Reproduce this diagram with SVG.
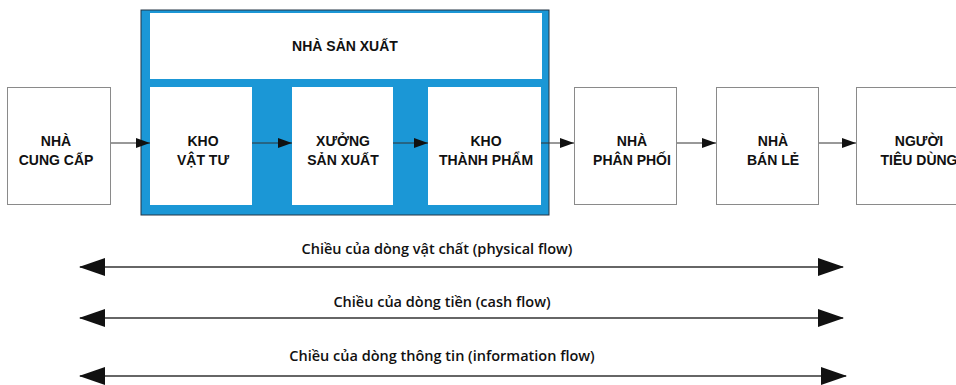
<svg xmlns="http://www.w3.org/2000/svg" width="956" height="385" viewBox="0 0 956 385">
  <style>
    .box { fill: #ffffff; stroke: #8a8a8a; stroke-width: 1; }
    .inner { fill: #ffffff; stroke: none; }
    .lbl { font-family: "Liberation Sans", Arial, sans-serif; font-weight: bold; font-size: 14px; fill: #111; text-anchor: middle; }
    .flow { font-family: "Open Sans", "Liberation Sans", sans-serif; font-weight: 600; font-size: 14.5px; fill: #111; text-anchor: middle; }
    .link { stroke: #333; stroke-width: 1; fill: none; marker-end: url(#head); }
    .span { stroke: #333; stroke-width: 1.6; fill: none; marker-start: url(#big); marker-end: url(#big); }
  </style>
  <defs>
    <marker id="head" markerUnits="userSpaceOnUse" markerWidth="14" markerHeight="10" viewBox="0 0 14 10" refX="14" refY="5" orient="auto">
      <path d="M0,0 L14,5 L0,10 Z" fill="#111"/>
    </marker>
    <marker id="big" markerUnits="userSpaceOnUse" markerWidth="26" markerHeight="18" viewBox="0 0 26 18" refX="25" refY="9" orient="auto-start-reverse">
      <path d="M0,0 L26,9 L0,18 Z" fill="#111"/>
    </marker>
  </defs>

  <rect width="956" height="385" fill="#ffffff"/>

  <!-- Manufacturer frame -->
  <g id="nha-san-xuat">
    <rect x="141" y="10" width="408" height="205" fill="#1b97d6" stroke="#243444" stroke-width="1"/>
    <rect class="inner" x="150" y="13" width="392" height="66"/>
    <text class="lbl" x="345" y="51">NHÀ SẢN XUẤT</text>
  </g>

  <g id="kho-vat-tu">
    <rect class="inner" x="150" y="87" width="102" height="118"/>
    <text class="lbl" x="203" y="146">KHO</text>
    <text class="lbl" x="203" y="165">VẬT TƯ</text>
  </g>

  <g id="xuong-san-xuat">
    <rect class="inner" x="292" y="87" width="101" height="118"/>
    <text class="lbl" x="343" y="146">XƯỞNG</text>
    <text class="lbl" x="343" y="165">SẢN XUẤT</text>
  </g>

  <g id="kho-thanh-pham">
    <rect class="inner" x="428" y="87" width="113" height="118"/>
    <text class="lbl" x="486" y="146">KHO</text>
    <text class="lbl" x="486" y="165">THÀNH PHẨM</text>
  </g>

  <g id="nha-cung-cap">
    <rect class="box" x="7.5" y="87.5" width="103" height="117"/>
    <text class="lbl" x="56" y="146">NHÀ</text>
    <text class="lbl" x="56" y="165">CUNG CẤP</text>
  </g>

  <g id="nha-phan-phoi">
    <rect class="box" x="574.5" y="87.5" width="102" height="117"/>
    <text class="lbl" x="632" y="146">NHÀ</text>
    <text class="lbl" x="632" y="165">PHÂN PHỐI</text>
  </g>

  <g id="nha-ban-le">
    <rect class="box" x="716.5" y="87.5" width="102" height="117"/>
    <text class="lbl" x="773" y="146">NHÀ</text>
    <text class="lbl" x="773" y="165">BÁN LẺ</text>
  </g>

  <g id="nguoi-tieu-dung">
    <rect class="box" x="856.5" y="87.5" width="120" height="117"/>
    <text class="lbl" x="919" y="146">NGƯỜI</text>
    <text class="lbl" x="919" y="165">TIÊU DÙNG</text>
  </g>

  <!-- Connectors -->
  <g id="connectors">
    <line class="link" x1="111" y1="143" x2="150" y2="143"/>
    <line class="link" x1="252" y1="143" x2="292" y2="143"/>
    <line class="link" x1="393" y1="143" x2="428" y2="143"/>
    <line class="link" x1="541" y1="143" x2="574" y2="143"/>
    <line class="link" x1="677" y1="143" x2="716" y2="143"/>
    <line class="link" x1="819" y1="143" x2="856" y2="143"/>

    <line class="span" x1="80" y1="267" x2="843" y2="267"/>
    <line class="span" x1="80" y1="318" x2="843" y2="318"/>
    <line class="span" x1="80" y1="376" x2="846" y2="376"/>
  </g>

  <!-- Flow labels -->
  <g id="flow-labels">
    <text class="flow" x="437" y="254">Chiều của dòng vật chất (physical flow)</text>
    <text class="flow" x="442" y="307">Chiều của dòng tiền (cash flow)</text>
    <text class="flow" x="442" y="361">Chiều của dòng thông tin (information flow)</text>
  </g>
</svg>
